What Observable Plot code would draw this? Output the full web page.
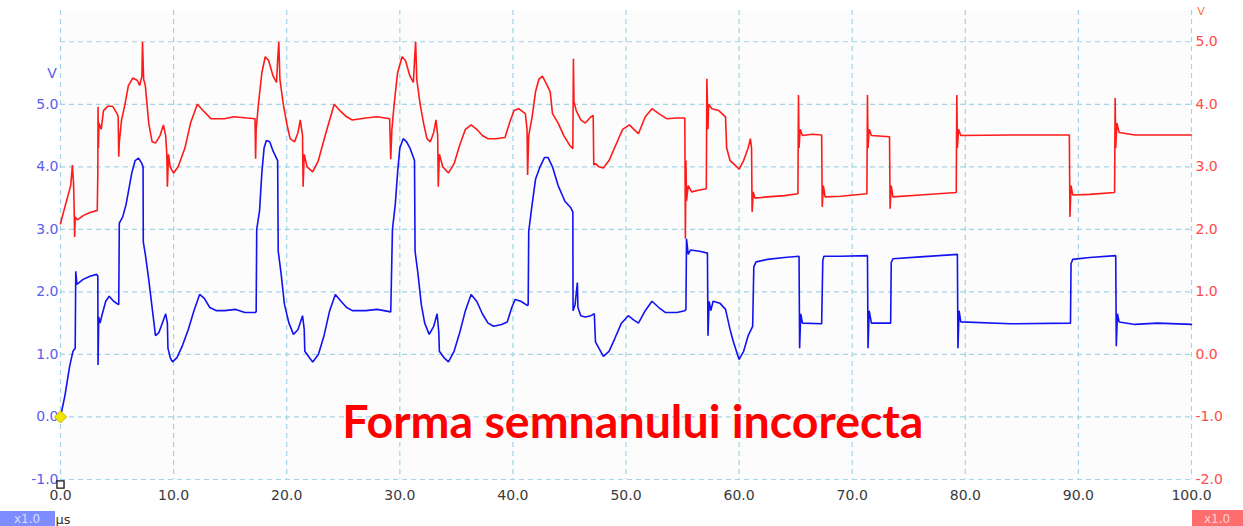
<!DOCTYPE html>
<html>
<head>
<meta charset="utf-8">
<script src="https://cdn.jsdelivr.net/npm/d3@7"></script>
<script src="https://cdn.jsdelivr.net/npm/@observablehq/plot@0.6"></script>
<style>
  html, body { margin: 0; padding: 0; background: #ffffff; overflow: hidden; }
  #chart { position: relative; width: 1243px; height: 526px; }
</style>
</head>
<body>
<div id="chart"></div>
<script>
// ---- Data (time in µs, values in volts) ----
const xTicks = [0, 10, 20, 30, 40, 50, 60, 70, 80, 90, 100];
const leftTicks = [-1, 0, 1, 2, 3, 4, 5];          // blue channel (V)
const rightTicks = [-2, -1, 0, 1, 2, 3, 4, 5];      // red channel (V)
const rightOffset = 1;                               // red axis = left axis - 1 V
const title = "Forma semnanului incorecta";
const unitLabel = "µs";
const scaleLabel = "x1.0";

// Blue trace: [t µs, V on left axis]
const blueTrace = [
  [0,0],[0.4,0.35],[0.8,0.8],[1.1,1.05],[1.3,1.1],[1.35,2.33],[1.45,2.12],[2.0,2.2],[2.6,2.25],[3.2,2.28],
  [3.3,2.25],[3.32,0.83],[3.38,1.6],[3.5,1.5],[3.7,1.65],[4.0,1.85],[4.3,1.93],[4.7,1.85],[5.1,1.8],[5.15,1.8],
  [5.2,3.1],[5.5,3.2],[5.8,3.4],[6.1,3.7],[6.3,3.9],[6.6,4.1],[6.9,4.14],[7.2,4.05],[7.3,4.0],[7.32,2.8],
  [7.5,2.6],[7.8,2.2],[8.1,1.75],[8.4,1.3],[8.7,1.35],[9.0,1.5],[9.3,1.65],[9.45,1.5],[9.5,1.1],[9.7,0.95],
  [9.9,0.88],[10.3,0.95],[10.8,1.15],[11.3,1.4],[11.8,1.7],[12.3,1.96],[12.7,1.9],[13.2,1.75],[13.8,1.7],[14.5,1.7],
  [15.5,1.72],[16.3,1.67],[17.2,1.67],[17.3,1.68],[17.35,3.0],[17.6,3.3],[17.8,3.9],[18.0,4.3],[18.2,4.42],[18.5,4.4],
  [18.8,4.25],[19.2,4.1],[19.25,2.65],[19.5,2.3],[19.8,1.8],[20.2,1.5],[20.6,1.32],[21.0,1.4],[21.4,1.62],[21.55,1.4],
  [21.6,1.05],[22.0,0.95],[22.3,0.88],[22.8,1.0],[23.3,1.3],[23.8,1.7],[24.3,1.96],[24.8,1.85],[25.3,1.75],[25.8,1.7],
  [27.0,1.7],[28.0,1.72],[29.2,1.68],[29.35,3.0],[29.6,3.4],[29.8,3.9],[30.0,4.3],[30.3,4.45],[30.6,4.4],[30.9,4.3],
  [31.3,4.1],[31.35,2.65],[31.6,2.3],[31.9,1.8],[32.2,1.5],[32.6,1.32],[33.0,1.45],[33.3,1.65],[33.45,1.35],[33.5,1.05],
  [33.9,0.95],[34.3,0.88],[34.8,1.05],[35.3,1.35],[35.8,1.7],[36.3,1.96],[36.8,1.85],[37.3,1.65],[37.8,1.5],[38.3,1.45],
  [39.0,1.48],[39.5,1.52],[39.9,1.75],[40.2,1.88],[40.7,1.85],[41.3,1.78],[41.35,1.8],[41.4,2.97],[41.7,3.4],[42.0,3.8],
  [42.4,4.0],[42.8,4.15],[43.1,4.15],[43.5,4.0],[44.0,3.7],[44.6,3.45],[45.1,3.35],[45.3,3.28],[45.32,1.7],[45.5,1.8],
  [45.7,2.15],[45.75,1.75],[46.0,1.62],[46.4,1.6],[46.9,1.62],[47.2,1.65],[47.3,1.2],[47.6,1.1],[48.0,0.97],[48.5,1.05],
  [49.0,1.25],[49.6,1.5],[50.2,1.62],[50.7,1.55],[51.1,1.5],[51.7,1.7],[52.3,1.85],[52.9,1.75],[53.5,1.67],[54.5,1.67],
  [55.2,1.7],[55.3,1.72],[55.35,2.85],[55.5,2.6],[55.7,2.67],[56.5,2.65],[57.2,2.62],[57.25,1.3],[57.35,1.85],[57.5,1.7],
  [57.7,1.85],[58.3,1.82],[58.8,1.72],[59.2,1.4],[59.5,1.2],[60.0,0.92],[60.4,1.05],[60.8,1.3],[61.2,1.45],[61.3,2.4],
  [61.5,2.48],[62.5,2.52],[64.0,2.55],[65.3,2.57],[65.35,1.1],[65.45,1.65],[65.6,1.5],[67.3,1.49],[67.4,2.5],[67.5,2.57],
  [69.0,2.57],[71.35,2.58],[71.4,1.1],[71.5,1.7],[71.7,1.5],[73.4,1.5],[73.45,2.47],[73.6,2.53],[76.0,2.56],[79.3,2.6],
  [79.35,1.1],[79.45,1.7],[79.6,1.52],[84.0,1.49],[89.3,1.5],[89.35,2.45],[89.5,2.52],[91.0,2.55],[93.3,2.58],[93.35,1.13],
  [93.45,1.65],[93.6,1.52],[95.0,1.48],[97.0,1.5],[100,1.48]
];

// Red trace: [t µs, V on right axis]
const redTrace = [
  [0,2.09],[0.3,2.3],[0.6,2.5],[0.9,2.7],[1.0,2.9],[1.05,3.03],[1.15,2.75],[1.2,2.4],[1.25,1.88],[1.3,2.2],
  [1.5,2.15],[2.0,2.22],[2.6,2.27],[3.2,2.3],[3.25,2.3],[3.3,2.9],[3.32,3.96],[3.35,3.3],[3.4,3.7],[3.6,3.6],
  [3.8,3.9],[4.2,3.97],[4.6,3.97],[5.0,3.85],[5.1,3.8],[5.15,3.16],[5.2,3.4],[5.4,3.75],[5.7,4.0],[6.0,4.3],
  [6.4,4.42],[6.8,4.38],[7.0,4.3],[7.2,4.45],[7.25,5.0],[7.35,4.4],[7.5,4.3],[7.8,3.7],[8.1,3.4],[8.4,3.38],
  [8.8,3.5],[9.1,3.67],[9.3,3.5],[9.4,3.2],[9.45,2.68],[9.55,3.2],[9.7,3.0],[10.0,2.9],[10.4,3.0],[11.0,3.3],
  [11.5,3.7],[12.1,4.0],[12.6,3.9],[13.3,3.77],[14.5,3.77],[15.3,3.8],[16.5,3.78],[17.2,3.77],[17.25,3.13],[17.3,3.6],
  [17.5,4.0],[17.8,4.5],[18.1,4.76],[18.4,4.7],[18.8,4.45],[19.1,4.35],[19.2,4.7],[19.3,5.0],[19.4,4.4],[19.7,4.0],
  [20.0,3.7],[20.3,3.45],[20.7,3.4],[21.0,3.55],[21.2,3.75],[21.4,3.5],[21.45,2.68],[21.55,3.2],[21.8,3.0],[22.3,2.92],
  [22.8,3.1],[23.4,3.5],[24.2,4.0],[24.7,3.9],[25.3,3.8],[25.8,3.75],[27.0,3.78],[28.0,3.8],[29.1,3.77],[29.2,3.12],
  [29.3,3.6],[29.5,4.0],[29.8,4.5],[30.2,4.76],[30.5,4.7],[30.9,4.45],[31.2,4.35],[31.3,4.7],[31.4,5.0],[31.5,4.4],
  [31.8,4.0],[32.1,3.7],[32.4,3.45],[32.7,3.4],[33.0,3.55],[33.2,3.75],[33.35,3.5],[33.4,2.68],[33.5,3.2],[33.8,3.0],
  [34.3,2.9],[34.8,3.05],[35.3,3.35],[35.8,3.6],[36.3,3.67],[36.8,3.6],[37.3,3.5],[37.8,3.45],[38.5,3.45],[39.3,3.47],
  [39.7,3.7],[40.1,3.9],[40.5,3.93],[41.1,3.85],[41.25,3.6],[41.3,2.87],[41.4,3.5],[41.7,3.8],[42.0,4.2],[42.3,4.4],
  [42.6,4.45],[42.9,4.35],[43.3,4.2],[43.5,3.85],[44.0,3.7],[44.5,3.5],[45.0,3.35],[45.3,3.29],[45.35,4.73],[45.4,4.04],
  [45.6,3.9],[46.0,3.75],[46.4,3.7],[46.9,3.8],[47.1,3.82],[47.15,3.03],[47.3,3.05],[47.6,3.0],[48.0,2.98],[48.5,3.1],
  [49.1,3.35],[49.7,3.6],[50.3,3.67],[50.7,3.6],[51.1,3.53],[51.7,3.8],[52.3,3.93],[52.9,3.85],[53.6,3.77],[54.5,3.78],
  [55.2,3.78],[55.25,1.85],[55.3,3.1],[55.35,2.45],[55.5,2.7],[55.8,2.6],[56.5,2.63],[57.1,2.65],[57.15,4.41],[57.25,3.6],
  [57.3,4.0],[57.6,3.93],[58.2,3.9],[58.8,3.8],[58.9,3.3],[59.2,3.1],[59.5,3.05],[59.8,3.0],[60.0,2.96],[60.4,3.1],
  [60.8,3.3],[61.0,3.45],[61.1,3.3],[61.15,2.28],[61.25,2.6],[61.4,2.5],[62.5,2.52],[64.0,2.54],[65.2,2.57],[65.25,4.15],
  [65.3,3.3],[65.4,3.6],[65.6,3.5],[66.5,3.52],[67.3,3.51],[67.35,2.36],[67.45,2.7],[67.6,2.52],[69.0,2.53],[71.3,2.57],
  [71.35,4.15],[71.4,3.3],[71.5,3.6],[71.7,3.5],[73.3,3.48],[73.35,2.33],[73.45,2.7],[73.6,2.52],[76.0,2.55],[79.2,2.59],
  [79.25,4.15],[79.3,3.3],[79.4,3.6],[79.6,3.5],[84.0,3.51],[89.2,3.51],[89.25,2.2],[89.35,2.7],[89.5,2.55],[91.0,2.56],
  [93.2,2.59],[93.25,4.1],[93.3,3.3],[93.4,3.7],[93.6,3.55],[95.0,3.51],[100,3.51]
];

const markers = [{t: 0, v: 0}];
const trigger = [{t: 0, v: -1}];

// ---- Chart ----
const gridColor = "#a3d4e8";
const fmt = d => d.toFixed(1);

const chart = Plot.plot({
  width: 1243,
  height: 526,
  marginLeft: 60,
  marginRight: 52,
  marginTop: 10,
  marginBottom: 47,
  style: { fontFamily: "DejaVu Sans", fontSize: "14px", background: "transparent" },
  x: { domain: [0, 100] },
  y: { domain: [-1, 6.5] },
  marks: [
    Plot.frame({ fill: "#fcfcfc", stroke: null }),
    Plot.gridX({ ticks: xTicks, stroke: gridColor, strokeOpacity: 1, strokeDasharray: "5,4", strokeWidth: 1.2 }),
    Plot.gridY({ ticks: rightTicks.map(d => d + rightOffset), stroke: gridColor, strokeOpacity: 1, strokeDasharray: "5,4", strokeWidth: 1.2 }),
    Plot.axisX({ ticks: xTicks, tickFormat: fmt, tickSize: 0, tickPadding: 11, color: "#3a3a3a", label: null, fontSize: 14 }),
    Plot.axisY({ anchor: "left", ticks: leftTicks, tickFormat: fmt, tickSize: 0, tickPadding: 2, color: "#5c5cf0", label: null, fontSize: 14 }),
    Plot.axisY({ anchor: "right", ticks: rightTicks.map(d => d + rightOffset), tickFormat: d => fmt(d - rightOffset), tickSize: 0, tickPadding: 4, color: "#ff4a4a", label: null, fontSize: 14 }),
    Plot.line(redTrace, { x: d => d[0], y: d => d[1] + rightOffset, stroke: "#ff1a1a", strokeWidth: 1.6, strokeLinejoin: "miter" }),
    Plot.line(blueTrace, { x: d => d[0], y: d => d[1], stroke: "#1212f2", strokeWidth: 1.6, strokeLinejoin: "miter" }),
    Plot.dot(markers, { x: "t", y: "v", symbol: "diamond2", r: 5.5, fill: "#f3e300", stroke: "#c9b800", strokeWidth: 1 }),
    Plot.dot(trigger, { x: "t", y: "v", symbol: "square", r: 4, fill: "white", stroke: "#111", strokeWidth: 1.3, dy: 5 }),
    Plot.text([title], { x: () => 50.6, y: () => -0.335, text: d => d, fill: "#ff0000", fontSize: 46.5, fontWeight: "bold", fontFamily: "Lato", textAnchor: "middle", lineAnchor: "bottom" })
  ]
});

document.getElementById("chart").appendChild(chart);

// Oscilloscope decorations (unit labels and scale badges)
const svg = d3.select(chart);
svg.append("text").attr("x", 52).attr("y", 78).attr("text-anchor", "middle")
  .attr("fill", "#5c5cf0").style("font-size", "14px").text("V");
svg.append("text").attr("x", 1201).attr("y", 15).attr("text-anchor", "middle")
  .attr("fill", "#ff7040").style("font-size", "11px").text("V");
svg.append("rect").attr("x", 0).attr("y", 511).attr("width", 55).attr("height", 15).attr("fill", "#7d8cff");
svg.append("text").attr("x", 27).attr("y", 523).attr("text-anchor", "middle")
  .attr("fill", "#d8ddff").style("font-size", "12px").text(scaleLabel);
svg.append("text").attr("x", 63).attr("y", 524)
  .attr("fill", "#333").style("font-size", "13px").text(unitLabel);
svg.append("rect").attr("x", 1192).attr("y", 510).attr("width", 51).attr("height", 16).attr("fill", "#ff6e6e");
svg.append("text").attr("x", 1217).attr("y", 523).attr("text-anchor", "middle")
  .attr("fill", "#ffd0d0").style("font-size", "12px").text(scaleLabel);
</script>
</body>
</html>
